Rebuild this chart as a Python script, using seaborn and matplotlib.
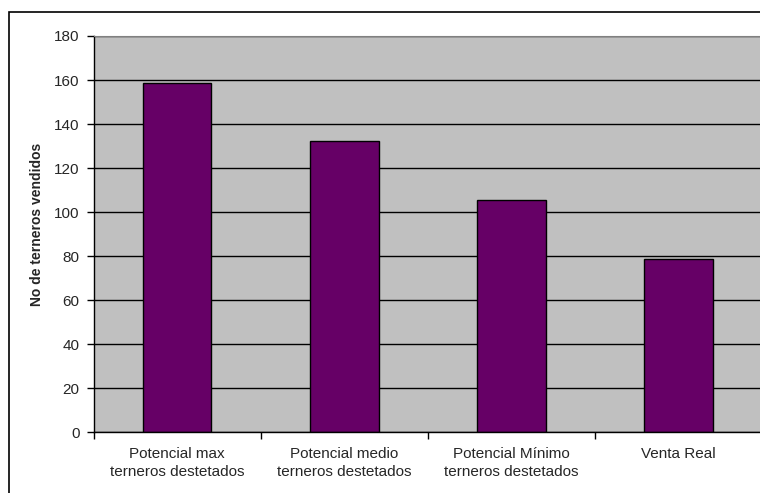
import numpy as np
import pandas as pd
import seaborn as sns
import matplotlib.pyplot as plt
from matplotlib.patches import Rectangle

categorias = ["Potencial max\nterneros destetados",
              "Potencial medio\nterneros destetados",
              "Potencial Mínimo\nterneros destetados",
              "Venta Real"]
valores = [158.5, 132.3, 105.5, 78.6]
yticks = list(range(0, 181, 20))

df = pd.DataFrame({"categoria": categorias, "valor": valores})

sns.set_style("white")
plt.rcParams["font.family"] = ["Liberation Sans", "DejaVu Sans"]

fig = plt.figure(figsize=(7.6, 4.93), dpi=100)
ax = fig.add_axes([93.5 / 760, 61 / 493, (762.3 - 93.5) / 760, 396 / 493])
ax.set_facecolor("#C0C0C0")

sns.barplot(data=df, x="categoria", y="valor", color="#660066",
            edgecolor="black", linewidth=1, width=0.41, saturation=1, ax=ax)

ax.set_xlim(-0.5, len(categorias) - 0.5)
ax.set_ylim(0, 180)
ax.set_yticks(yticks)
ax.yaxis.grid(True, color="black", linewidth=1)
ax.set_axisbelow(True)

ax.set_xticks(range(len(categorias)))
ax.set_xticklabels(categorias, fontsize=11, linespacing=1.3)
ax.tick_params(axis="x", length=0, pad=11)
ax.set_xticks(np.arange(-0.5, len(categorias), 1), minor=True)
ax.tick_params(axis="x", which="minor", length=5, width=1, color="black", direction="out", bottom=True)
ax.tick_params(axis="y", length=5, width=1, color="black", direction="out", left=True, labelsize=11, pad=5)

for s in ["left", "bottom"]:
    ax.spines[s].set_color("black")
    ax.spines[s].set_linewidth(1)
ax.spines["top"].set_color("#808080")
ax.spines["right"].set_visible(False)

ax.set_xlabel("")
ax.set_ylabel("No de terneros vendidos", fontsize=10, fontweight="bold")
ax.yaxis.set_label_coords(-0.074, 0.525)

fig.patches.append(Rectangle((9 / 760, -0.1), 1.2, (493 - 12) / 493 + 0.1,
                             transform=fig.transFigure, fill=False,
                             edgecolor="black", linewidth=1.2))

fig.savefig("out.png", dpi=100)
